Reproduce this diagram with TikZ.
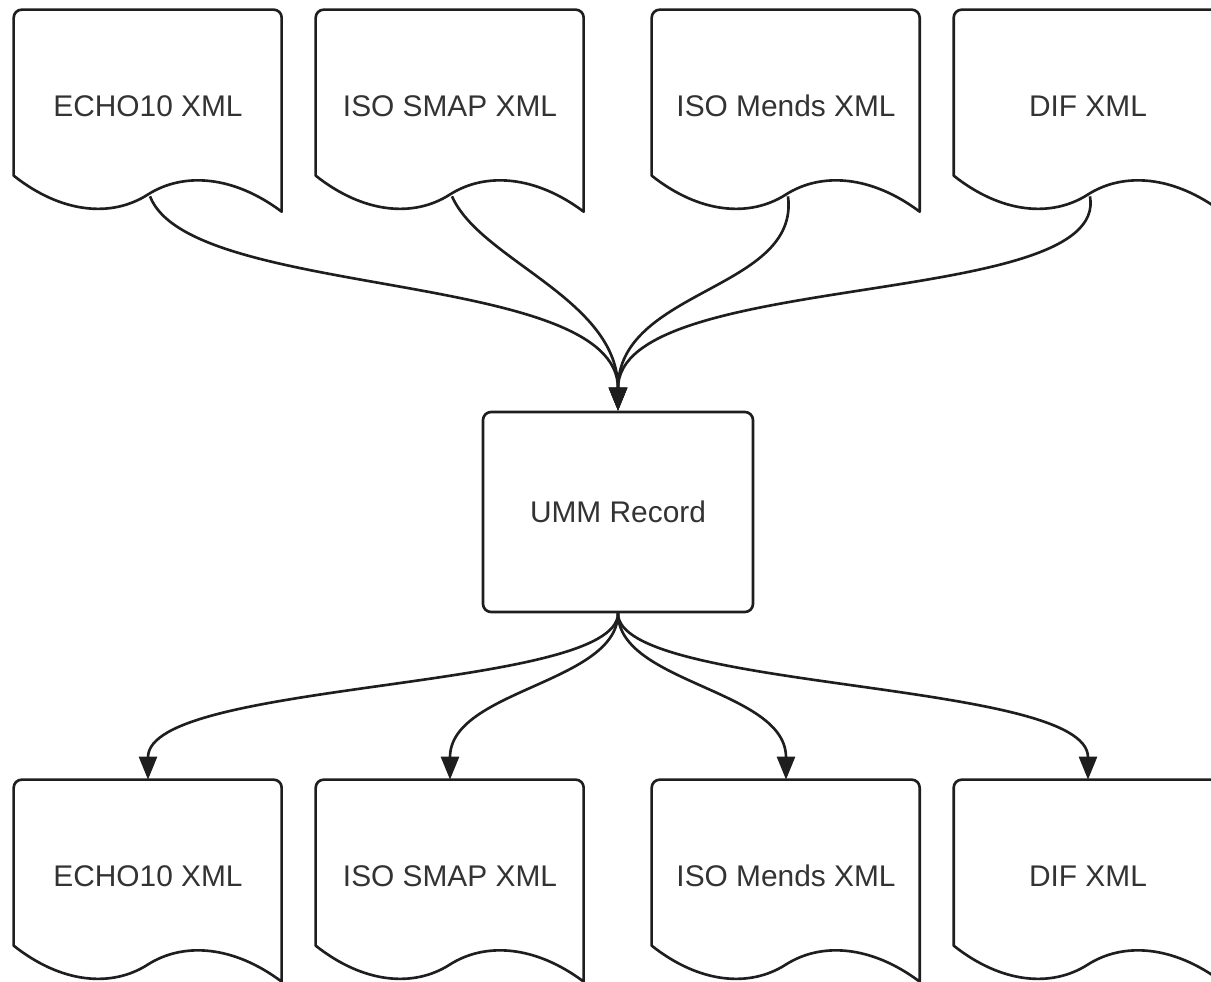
\documentclass[tikz,border=0pt]{standalone}
\usepackage{fontspec}
\setmainfont{Liberation Sans}
\usetikzlibrary{arrows.meta, calc}
\definecolor{linegray}{HTML}{1E1E1E}
\definecolor{textgray}{HTML}{333333}

\begin{document}
\begin{tikzpicture}[
        x=0.02cm, y=-0.02cm,
        doc/.style={rectangle, minimum width=5.36cm, minimum height=4.04cm, inner sep=0pt, text depth=0.2cm, font=\fontsize{17}{21}\selectfont, text=textgray},
        record/.style={rectangle, draw=linegray, line width=1.5pt, rounded corners=0.16cm, minimum width=5.4cm, minimum height=4cm, align=center, font=\fontsize{17}{21}\selectfont, text=textgray},
        docline/.style={draw=linegray, line width=1.5pt, line join=round},
        flow/.style={draw=linegray, line width=1.5pt, -{Triangle[length=0.46cm, width=0.36cm]}}
    ]
        \useasboundingbox (0,0) rectangle (1211,982);
        \clip (0,0) rectangle (1211,982);

        % Source formats
        \node[doc] (src1) at (148,111) {ECHO10 XML};
        \node[doc] (src2) at (450,111) {ISO SMAP XML};
        \node[doc] (src3) at (786,111) {ISO Mends XML};
        \node[doc] (src4) at (1088,111) {DIF XML};

        % Central record
        \node[record] (umm) at (618,512) {UMM Record};

        % Target formats
        \node[doc] (dst1) at (148,881) {ECHO10 XML};
        \node[doc] (dst2) at (450,881) {ISO SMAP XML};
        \node[doc] (dst3) at (786,881) {ISO Mends XML};
        \node[doc] (dst4) at (1088,881) {DIF XML};

        % Document outlines
        \foreach \n in {src1,src2,src3,src4,dst1,dst2,dst3,dst4} {
            \path[docline, shift={(\n.north west)}] (0,166) [rounded corners=0.16cm] -- (0,0) -- (268,0) [sharp corners] -- (268,202)
                .. controls (220,166) and (170,162) .. (134,185)
                .. controls (98,208) and (48,204) .. cycle;
        }

        % Arrows in
        \draw[flow] ($(src1.south)+(2,-16)$) .. controls +(40,104) and +(0,-142) .. (umm.north);
        \draw[flow] ($(src2.south)+(2,-16)$) .. controls +(28,64) and +(0,-112) .. (umm.north);
        \draw[flow] ($(src3.south)+(2,-16)$) .. controls +(12,94) and +(0,-122) .. (umm.north);
        \draw[flow] ($(src4.south)+(2,-16)$) .. controls +(20,114) and +(0,-142) .. (umm.north);

        % Arrows out
        \draw[flow] (umm.south) .. controls +(0,78) and +(0,-100) .. (dst1.north);
        \draw[flow] (umm.south) .. controls +(0,70) and +(0,-90) .. (dst2.north);
        \draw[flow] (umm.south) .. controls +(0,70) and +(0,-90) .. (dst3.north);
        \draw[flow] (umm.south) .. controls +(0,78) and +(0,-100) .. (dst4.north);
    \end{tikzpicture}
\end{document}
